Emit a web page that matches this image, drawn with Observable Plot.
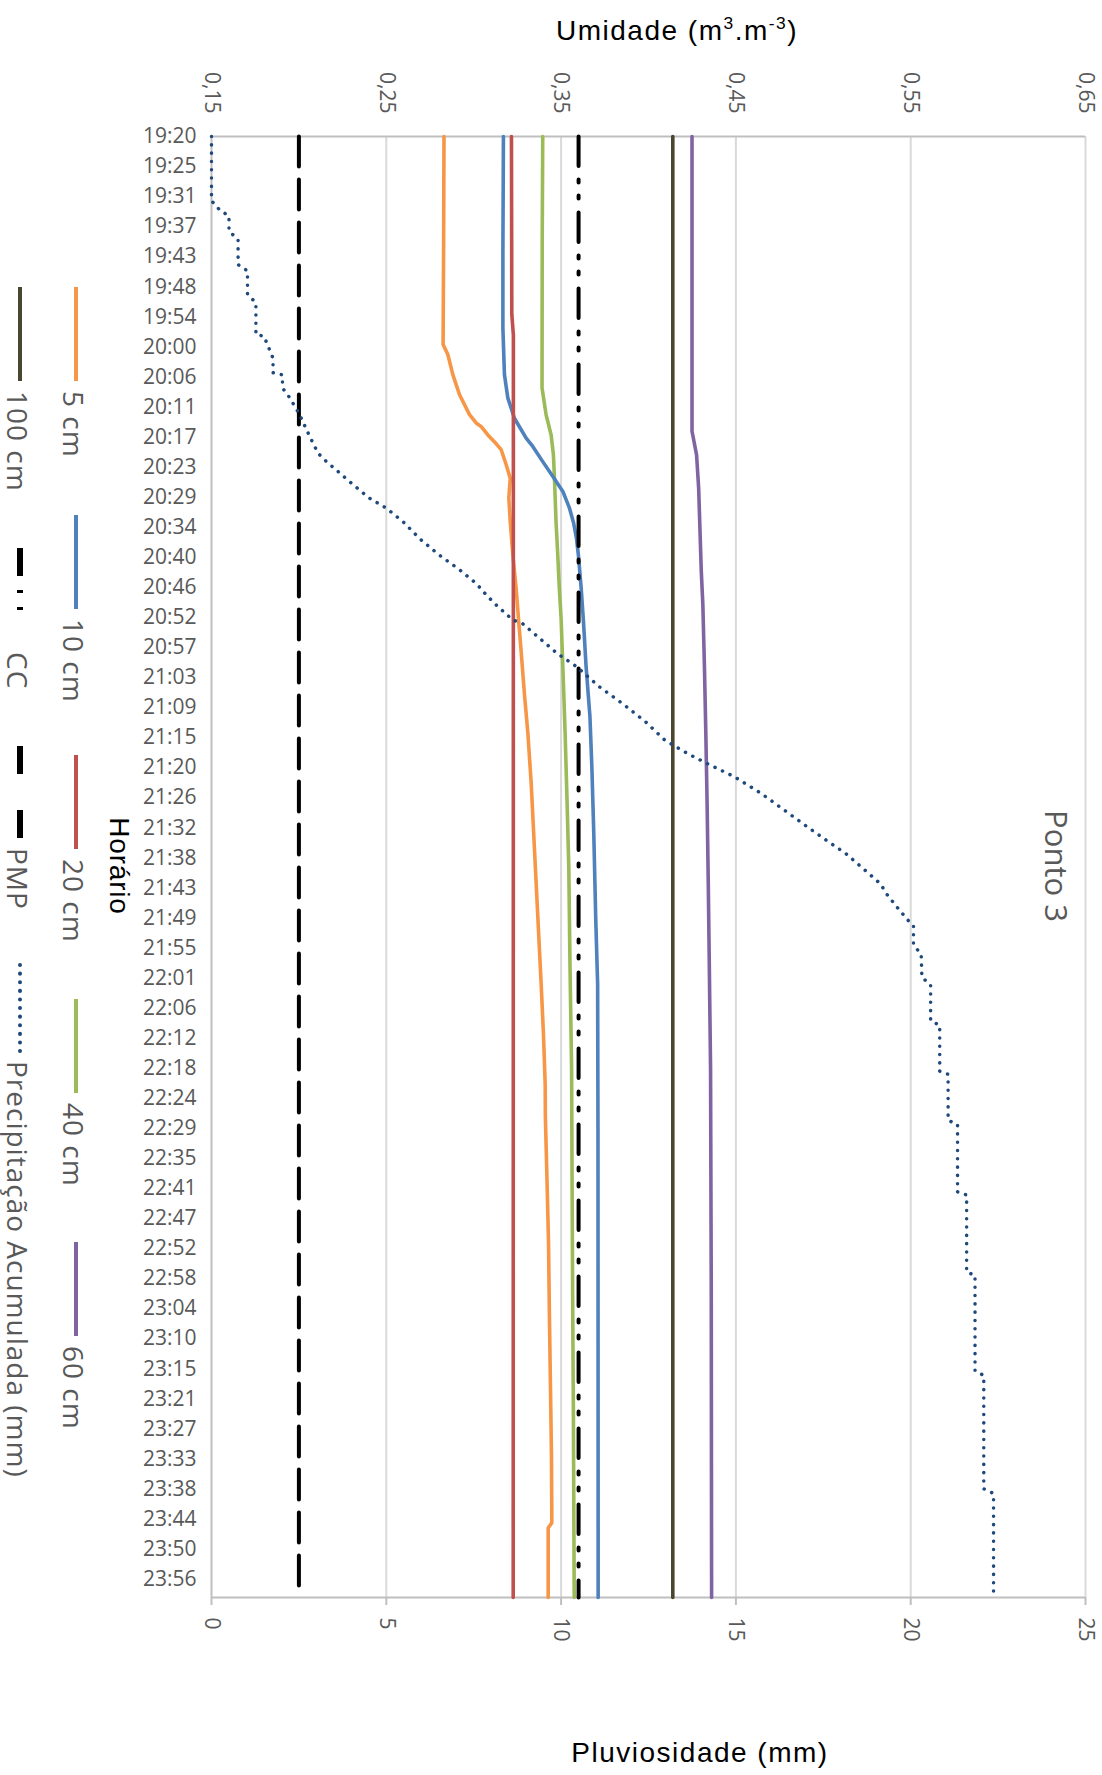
<!DOCTYPE html>
<html>
<head>
<meta charset="utf-8">
<script src="https://cdn.jsdelivr.net/npm/d3@7"></script>
<script src="https://cdn.jsdelivr.net/npm/@observablehq/plot@0.6"></script>
<style>
  html, body { margin:0; padding:0; background:#fff; }
  #wrap { position:relative; width:1102px; height:1775px; overflow:hidden; background:#fff; }
  #chart { position:absolute; left:0; top:0; }
  .ctr { position:absolute; white-space:nowrap; transform:translate(-50%,-50%) rotate(90deg); line-height:1; }
  .ttl { position:absolute; white-space:nowrap; transform:translateX(-50%); line-height:1; font-family:"Liberation Sans", Arial, sans-serif; font-size:28px; font-weight:400; color:#000; letter-spacing:1.5px; }
  .leg { position:absolute; transform-origin:0 0; transform:rotate(90deg); display:flex; align-items:center; white-space:nowrap; }
  .leg span { font-family:"Open Sans", sans-serif; font-size:28px; color:#595959; margin-left:8px; position:relative; top:2px; letter-spacing:1px; }
</style>
</head>
<body>
<div id="wrap"><div id="chart"></div></div>
<script>
// ---------------- DATA ----------------
const startClock = "19:20:00";
const endClock = "23:59:30";
const labelEveryMin = 5.75; // category axis shows one label every 23 samples of 15 s
const timeLabels = ["19:20","19:25","19:31","19:37","19:43","19:48","19:54","20:00","20:06","20:11","20:17","20:23","20:29","20:34","20:40","20:46","20:52","20:57","21:03","21:09","21:15","21:20","21:26","21:32","21:38","21:43","21:49","21:55","22:01","22:06","22:12","22:18","22:24","22:29","22:35","22:41","22:47","22:52","22:58","23:04","23:10","23:15","23:21","23:27","23:33","23:38","23:44","23:50","23:56"];

const umidadeTicks = [0.15, 0.25, 0.35, 0.45, 0.55, 0.65];
const umidadeTickLabels = ["0,15","0,25","0,35","0,45","0,55","0,65"];
const chuvaTickLabels = ["0","5","10","15","20","25"];
const chuvaMax = 25;

const serie5cm = [["19:20:00",0.2830],["19:40:00",0.2828],["19:59:48",0.2825],["20:01:42",0.2852],["20:05:36",0.2881],["20:09:24",0.2919],["20:13:12",0.2976],["20:14:48",0.3014],["20:15:30",0.3043],["20:17:06",0.3081],["20:18:48",0.3129],["20:19:54",0.3157],["20:22:48",0.3186],["20:25:24",0.3209],["20:29:12",0.3201],["20:33:42",0.3209],["20:40:06",0.3224],["20:46:30",0.3243],["20:52:12",0.3256],["20:58:18",0.3271],["21:06:36",0.3290],["21:14:12",0.3310],["21:23:48",0.3329],["21:36:36",0.3348],["21:49:24",0.3367],["22:02:12",0.3386],["22:11:42",0.3399],["22:21:18",0.3409],["22:27:36",0.3410],["22:37:48",0.3418],["22:51:30",0.3428],["23:05:12",0.3433],["23:18:54",0.3439],["23:32:30",0.3445],["23:45:12",0.3447],["23:46:12",0.3426],["23:59:30",0.3426]];
const serie10cm = [["19:20:00",0.3170],["19:42:36",0.3167],["19:56:36",0.3167],["20:05:36",0.3176],["20:10:00",0.3195],["20:13:54",0.3233],["20:17:42",0.3300],["20:19:18",0.3338],["20:22:12",0.3395],["20:25:00",0.3452],["20:27:54",0.3510],["20:31:06",0.3548],["20:34:00",0.3572],["20:36:54",0.3588],["20:40:06",0.3599],["20:46:30",0.3615],["20:52:48",0.3628],["21:01:24",0.3643],["21:11:00",0.3665],["21:20:36",0.3676],["21:33:24",0.3687],["21:49:24",0.3698],["22:02:12",0.3709],["22:30:00",0.3711],["23:59:30",0.3712]];
const serie20cm = [["19:20:00",0.3216],["19:54:00",0.3218],["19:58:00",0.3227],["23:59:30",0.3226]];
const serie40cm = [["19:20:00",0.3395],["19:40:00",0.3392],["20:08:06",0.3391],["20:13:12",0.3414],["20:17:06",0.3443],["20:20:54",0.3456],["20:25:24",0.3462],["20:33:42",0.3471],["20:40:06",0.3481],["20:46:30",0.3490],["20:52:12",0.3500],["21:01:24",0.3510],["21:14:12",0.3523],["21:27:00",0.3534],["21:39:48",0.3544],["21:58:54",0.3551],["22:18:06",0.3560],["22:41:12",0.3563],["23:01:48",0.3566],["23:22:18",0.3570],["23:59:30",0.3575]];
const serie60cm = [["19:20:00",0.4249],["20:16:24",0.4249],["20:18:18",0.4260],["20:20:54",0.4275],["20:27:18",0.4287],["20:33:42",0.4293],["20:43:12",0.4302],["20:49:36",0.4311],["21:01:24",0.4320],["21:14:12",0.4328],["21:27:00",0.4335],["21:43:00",0.4342],["21:58:54",0.4348],["22:18:06",0.4355],["23:00:00",0.4359],["23:59:30",0.4361]];
const serie100cm = [["19:20:00",0.4139],["23:59:30",0.4139]];
const serieCC = [["19:20:00",0.36],["23:59:30",0.36]];
const seriePMP = [["19:20:00",0.20],["23:59:30",0.20]];
const precipAcumulada = [["19:20:00",0],["19:32:18",0],["19:34:06",0.24],["19:35:12",0.50],["19:38:06",0.50],["19:39:42",0.76],["19:44:30",0.76],["19:45:42",1.03],["19:50:12",1.03],["19:51:48",1.27],["19:57:54",1.27],["19:58:12",1.50],["20:02:24",1.76],["20:05:12",1.76],["20:05:36",2.03],["20:08:06",2.03],["20:10:00",2.24],["20:13:12",2.52],["20:17:24",2.81],["20:20:36",3.05],["20:22:12",3.29],["20:23:48",3.57],["20:26:36",4.05],["20:29:12",4.52],["20:31:06",5.00],["20:33:42",5.48],["20:36:54",5.95],["20:40:06",6.52],["20:42:54",7.10],["20:45:30",7.57],["20:47:42",7.86],["20:49:36",8.14],["20:52:30",8.62],["20:53:12",8.90],["20:58:54",9.89],["21:01:24",10.44],["21:05:18",11.10],["21:08:30",11.76],["21:12:00",12.42],["21:15:30",12.97],["21:18:06",13.63],["21:20:00",14.19],["21:22:30",14.96],["21:25:42",15.73],["21:28:54",16.39],["21:32:06",17.05],["21:34:42",17.60],["21:37:12",18.15],["21:40:24",18.70],["21:43:00",19.14],["21:44:54",19.31],["21:48:06",19.69],["21:50:18",19.97],["21:50:54",20.08],["21:54:42",20.08],["21:56:24",20.30],["22:00:54",20.32],["22:02:12",20.57],["22:09:12",20.57],["22:10:00",20.83],["22:18:48",20.83],["22:19:24",21.07],["22:28:12",21.07],["22:29:00",21.34],["22:41:54",21.34],["22:42:30",21.60],["22:57:18",21.60],["22:57:48",21.84],["23:16:12",21.84],["23:17:00",22.09],["23:38:42",22.09],["23:39:36",22.37],["23:59:30",22.37]];

const seriesNames = ["5 cm","10 cm","20 cm","40 cm","60 cm","100 cm","CC","PMP","Precipitação Acumulada (mm)"];
const seriesColors = ["#F79646","#4F81BD","#C0504D","#9BBB59","#8064A2","#4B4630","#000000","#000000","#1F497D"];

// ---------------- HELPERS ----------------
const t0 = (() => { const [h,m,s] = startClock.split(":").map(Number); return h*60+m+s/60; })();
const toMin = str => { const [h,m,s=0] = str.split(":").map(Number); return h*60+m+s/60 - t0; };
const mmToU = mm => umidadeTicks[0] + mm / chuvaMax * (umidadeTicks[umidadeTicks.length-1] - umidadeTicks[0]);
const yEnd = toMin(endClock);
const timeTickPos = timeLabels.map((_, i) => i * labelEveryMin);
const timeLabelAt = new Map(timeTickPos.map((p, i) => [p, timeLabels[i]]));
const uLabelAt = new Map(umidadeTicks.map((v, i) => [v, umidadeTickLabels[i]]));
const mmLabelAt = new Map(umidadeTicks.map((v, i) => [v, chuvaTickLabels[i]]));

const solid = (data, color) => Plot.line(data, {x: d => d[1], y: d => toMin(d[0]), stroke: color, strokeWidth: 3.6, strokeLinejoin: "round"});

const plot = Plot.plot({
  width: 1102, height: 1775,
  marginTop: 136, marginBottom: 178, marginLeft: 211, marginRight: 17,
  x: {domain: [umidadeTicks[0], umidadeTicks[umidadeTicks.length-1]], label: null},
  y: {domain: [0, yEnd], reverse: true, label: null},
  style: {fontFamily: "'Open Sans', sans-serif", fontSize: "21px", background: "white"},
  marks: [
    Plot.ruleX(umidadeTicks.slice(1), {stroke: "#d9d9d9", strokeWidth: 2, strokeOpacity: 1}),
    Plot.ruleY([0], {stroke: "#bfbfbf", strokeWidth: 2}),
    Plot.ruleY([yEnd], {stroke: "#bfbfbf", strokeWidth: 2}),
    Plot.ruleX([umidadeTicks[0]], {stroke: "#bfbfbf", strokeWidth: 2}),
    Plot.axisX(umidadeTicks, {anchor: "top", tickSize: 0, tickPadding: 23, tickRotate: 90, textAnchor: "end", lineAnchor: "middle",
      tickFormat: d => uLabelAt.get(d), fill: "#595959", fontSize: 21, label: null}),
    Plot.axisX(umidadeTicks, {anchor: "bottom", tickSize: 8, tickPadding: 12, tickRotate: 90, textAnchor: "start", lineAnchor: "middle",
      tickFormat: d => mmLabelAt.get(d), stroke: "#bfbfbf", strokeWidth: 2, fill: "#595959", fontSize: 21, label: null}),
    Plot.axisY(timeTickPos, {anchor: "left", tickSize: 0, tickPadding: 15, tickFormat: d => timeLabelAt.get(d),
      fill: "#595959", fontSize: 21, label: null}),
    solid(serie5cm, seriesColors[0]),
    solid(serie40cm, seriesColors[3]),
    solid(serie10cm, seriesColors[1]),
    solid(serie20cm, seriesColors[2]),
    solid(serie60cm, seriesColors[4]),
    solid(serie100cm, seriesColors[5]),
    Plot.line(serieCC, {x: d => d[1], y: d => toMin(d[0]), stroke: seriesColors[6], strokeWidth: 4, strokeDasharray: "29.5,13.5,3,13,3,14"}),
    Plot.line(seriePMP, {x: d => d[1], y: d => toMin(d[0]), stroke: seriesColors[7], strokeWidth: 4, strokeDasharray: "30,13"}),
    Plot.line(precipAcumulada, {x: d => mmToU(d[1]), y: d => toMin(d[0]), stroke: seriesColors[8], strokeWidth: 3.5,
      strokeDasharray: "0.1,8.2", strokeLinecap: "round", strokeLinejoin: "round"})
  ]
});
document.getElementById("chart").appendChild(plot);

// ---------------- TITLES & LEGEND (HTML) ----------------
const wrap = document.getElementById("wrap");
function addDiv(cls, html, css) {
  const d = document.createElement("div");
  d.className = cls; d.innerHTML = html; d.style.cssText += css; wrap.appendChild(d); return d;
}
addDiv("ttl", 'Umidade (m<sup style="font-size:0.62em;vertical-align:0.62em">3</sup>.m<sup style="font-size:0.62em;vertical-align:0.62em">-3</sup>)', "left:677px;top:15px;");
addDiv("ttl", "Pluviosidade (mm)", "left:700px;top:1739px;");
addDiv("ctr", "Ponto 3", "left:1056px;top:866px;font-family:'Open Sans',sans-serif;font-size:31px;color:#595959;");
addDiv("ctr", "Horário", "left:119px;top:866px;font-family:'Liberation Sans',Arial,sans-serif;font-size:28px;color:#000;letter-spacing:0.8px;");

const swatchLen = 98, itemH = 34;
function swatch(i) {
  const c = seriesColors[i];
  let attrs = `stroke="${c}" stroke-width="4"`;
  if (seriesNames[i] === "CC") attrs = `stroke="${c}" stroke-width="6" stroke-dasharray="28,14,3,14,3,40"`;
  if (seriesNames[i] === "PMP") attrs = `stroke="${c}" stroke-width="6" stroke-dasharray="0,2,28,36,28,10"`;
  if (i === 8) attrs = `stroke="${c}" stroke-width="4" stroke-dasharray="0.1,8.5" stroke-linecap="round"`;
  return `<svg width="${swatchLen}" height="${itemH}" style="display:block;flex:none"><line x1="2" y1="${itemH/2}" x2="${swatchLen-2}" y2="${itemH/2}" ${attrs}/></svg>`;
}
// legend layout: [series index, line-centre x, start y, gap before text]
const legendLayout = [[0,76,285,8],[1,76,513,8],[2,76,753,8],[3,76,997,8],[4,76,1240,8],[5,20,285,8],[6,20,546,8],[7,20,742,8],[8,20,963,0]];
legendLayout.forEach(([i, cx, y0, gap]) => {
  addDiv("leg", swatch(i) + `<span style="margin-left:${gap}px">${seriesNames[i]}</span>`, `left:${cx + itemH/2}px;top:${y0}px;height:${itemH}px;`);
});
</script>
</body>
</html>
